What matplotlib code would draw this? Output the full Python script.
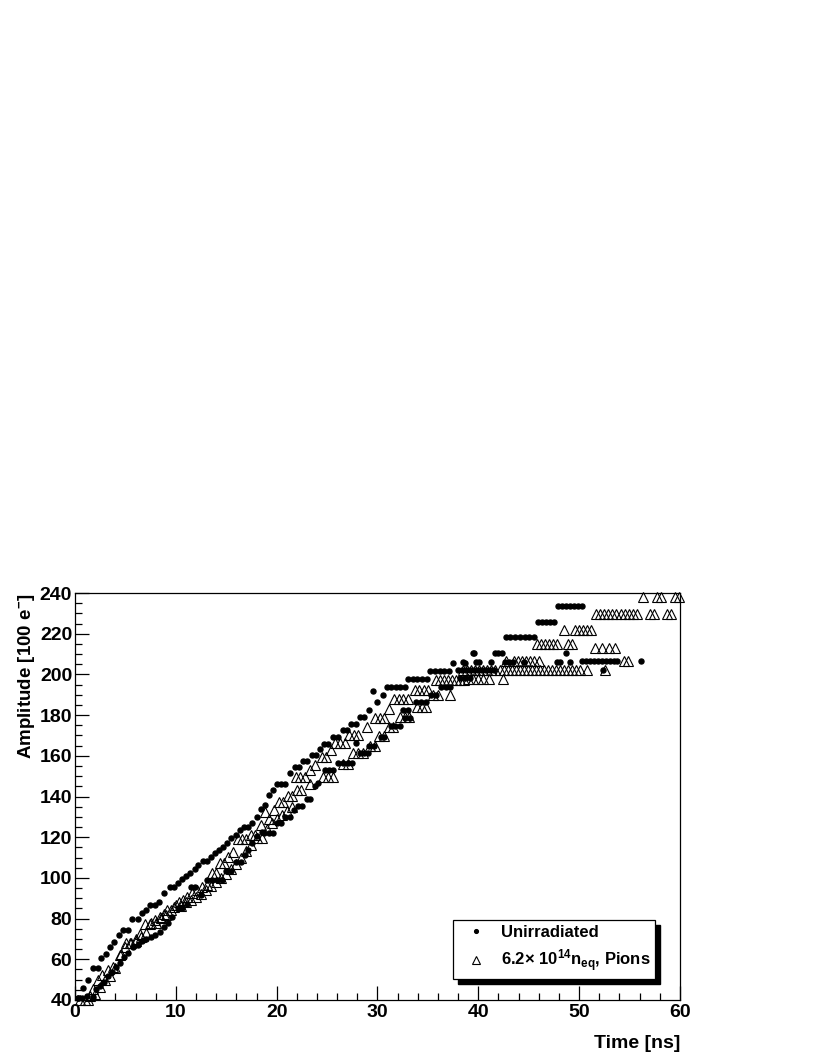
import matplotlib
matplotlib.use("Agg")
import matplotlib.pyplot as plt
from matplotlib.patches import Rectangle
from matplotlib.ticker import MultipleLocator

plt.rcParams['font.family'] = ['Liberation Sans', 'DejaVu Sans']
plt.rcParams['font.weight'] = 'bold'
plt.rcParams['mathtext.fontset'] = 'custom'
plt.rcParams['mathtext.rm'] = 'Liberation Sans:bold'
plt.rcParams['mathtext.it'] = 'Liberation Sans:bold'
plt.rcParams['mathtext.bf'] = 'Liberation Sans:bold'

# Unirradiated, steep (upper) trace
unirr_upper_t = [0.3, 0.8, 1.3, 1.75, 2.25, 2.6, 3.1, 3.5, 3.9, 4.4, 4.8, 5.3, 5.7, 6.2, 6.6, 7.0,
                 7.4, 7.9, 8.3, 8.8, 9.4, 9.8, 10.2, 10.6, 11.0, 11.4, 11.9, 12.2, 12.7, 13.1, 13.5,
                 13.9, 14.3, 14.7, 15.1, 15.5, 16.0, 16.4, 16.8, 17.2, 17.6, 18.0, 18.4, 18.8, 19.2,
                 19.6, 20.0, 20.4, 20.8, 21.3, 21.8, 22.2, 22.6, 23.0, 23.5, 23.9, 24.3, 24.7, 25.1,
                 25.6, 26.1, 26.6, 27.0, 27.4, 27.9, 28.3, 28.7, 29.2, 29.6, 30.0, 30.5, 30.9, 31.3,
                 31.8, 32.2, 32.7, 33.0, 33.5, 33.9, 34.4, 34.9, 35.2, 35.7, 36.2, 36.6, 37.1, 37.5,
                 38.7, 39.6, 41.7, 42.0, 42.3, 42.7, 43.1, 43.6, 44.1, 44.6, 45.0, 45.5, 45.9, 46.3,
                 46.7, 47.1, 47.5, 47.9, 48.3, 48.7, 49.1, 49.5, 49.9, 50.3]
unirr_upper_a = [41, 46, 50, 55.6, 55.6, 60.5, 62.6, 66, 68.7, 72, 74.4, 74.4, 80, 80, 82.6, 84.2,
                 86.7, 86.7, 88.3, 92.4, 95.7, 95.7, 97.3, 99.3, 100.9, 102.6, 104.2, 106.3, 108.3,
                 108.3, 110.4, 112.1, 113.7, 115.3, 117, 119.5, 121.1, 123.5, 125.2, 125.2, 126.8,
                 130.1, 134, 136, 140.7, 143.2, 146.1, 146.1, 146.1, 151.7, 154.3, 154.3, 157.2,
                 157.2, 160.2, 160.2, 163.2, 166, 166, 169.2, 169.2, 172.5, 172.5, 175.8, 175.8,
                 179.1, 179.1, 182.7, 191.8, 186.6, 189.9, 194, 194, 194, 194, 194, 197.7, 197.7,
                 197.7, 197.7, 197.7, 201.8, 201.8, 201.8, 201.8, 201.8, 205.8, 205.8, 210.3, 210.7,
                 210.7, 210.7, 218.2, 218.2, 218.2, 218.2, 218.2, 218.2, 218.2, 225.6, 225.6, 225.6,
                 225.6, 225.6, 233.8, 233.8, 233.8, 233.8, 233.8, 233.8, 233.8]

# Unirradiated, slower (lower) trace
unirr_lower_t = [0.3, 0.7, 1.2, 1.8, 2.1, 2.5, 2.9, 3.3, 3.7, 4.1, 4.5, 4.9, 5.3, 5.8, 6.2, 6.6,
                 7.0, 7.5, 7.9, 8.4, 8.8, 9.2, 9.6, 10.2, 10.6, 11.1, 11.5, 11.9, 12.5, 13.1, 13.6,
                 14.1, 14.6, 15.0, 15.5, 16.0, 16.5, 16.9, 17.2, 17.6, 18.0, 18.5, 18.7, 19.2, 19.6,
                 20.0, 20.4, 20.8, 21.3, 21.7, 22.1, 22.5, 23.0, 23.3, 23.8, 24.1, 24.8, 25.2, 25.6,
                 26.1, 26.6, 27.1, 27.5, 27.9, 28.3, 28.7, 29.1, 29.2, 29.7, 30.3, 30.6, 31.3, 31.7,
                 32.2, 32.5, 32.7, 33.0, 33.2, 33.8, 34.3, 34.8, 35.3, 35.8, 36.3, 36.8, 37.2]
unirr_lower_a = [40.8, 41, 42, 41.6, 45.6, 47, 49, 52, 54, 56, 58, 61, 63, 66, 67, 69,
                 70, 71, 72, 73.6, 76, 78, 81, 85, 85, 87, 95.7, 95.7, 91.5, 99, 99,
                 99, 99, 103.4, 103.4, 108, 108, 111.4, 113.8, 117, 120.4, 122.8, 121.9, 121.9, 121.9,
                 126.8, 126.8, 129.8, 129.8, 133.4, 135.3, 135.3, 138.6, 138.6, 145.1, 146.4, 152.9,
                 152.9, 152.9, 156.5, 156.5, 156.5, 156.5, 166.4, 161.2, 161.2, 161.2, 165, 165,
                 169.4, 169.4, 174.7, 174.7, 174.7, 182.6, 178.8, 182.6, 178.8, 186.3, 186.3, 186.3,
                 190, 190, 194, 194, 194]

# Unirradiated, plateau samples
unirr_flat_t = [38.0, 38.4, 38.8, 39.2, 39.6, 40.0, 40.4, 40.8, 41.2, 41.6, 38.2, 38.7, 39.2,
                38.5, 39.8, 40.1, 41.3, 42.6, 43.0, 43.4, 44.5, 47.8, 48.1, 49.1, 50.3, 50.7,
                51.1, 51.5, 51.9, 52.3, 52.7, 53.1, 53.5, 53.8, 56.1, 52.4, 48.7, 39.5]
unirr_flat_a = [202, 202, 202, 202, 202, 202, 202, 202, 202, 202, 198, 198, 198,
                206, 206, 206, 206, 206, 206, 206, 206, 206, 206, 206, 206.5, 206.5,
                206.5, 206.5, 206.5, 206.5, 206.5, 206.5, 206.5, 206.5, 206.5, 202, 210.3, 210.3]

# Pions 6.2e14, upper trace
pion_upper_t = [0.5, 1.3, 1.8, 2.3, 2.7, 3.3, 3.8, 4.6, 5.0, 5.6, 6.0, 6.4, 6.9, 7.4, 7.9, 8.4,
                8.8, 9.1, 9.8, 10.3, 10.7, 11.1, 11.6, 12.1, 12.6, 13.1, 13.6, 14.0, 14.4, 14.8,
                15.2, 15.7, 16.2, 16.6, 17.0, 17.5, 17.9, 18.4, 18.8, 19.2, 19.7, 20.2, 20.6, 21.1,
                21.5, 21.9, 22.3, 22.8, 23.3, 23.8, 24.5, 24.9, 25.4, 25.8, 26.3, 26.8, 27.2, 27.7,
                28.1, 29.0, 29.8, 30.2, 30.6, 31.1, 31.6, 32.1, 32.5, 33.0, 33.7, 34.1, 34.6, 35.0,
                35.8, 36.2, 36.6, 37.0, 37.4, 37.8, 38.2, 38.6, 39.0, 39.5, 40.0, 40.5, 41.1, 42.4]
pion_upper_a = [40, 40, 45.6, 49.6, 52.1, 54.5, 56.2, 62.7, 66, 68, 70.1, 72.6, 77.5, 77.5, 79.1,
                80.8, 82.4, 84.1, 85.7, 88.3, 89.1, 90.7, 92.4, 94, 95.7, 96.5, 102.2, 102.2, 107.1,
                107.1, 110.4, 112.9, 118.9, 118.9, 118.9, 121.1, 121.1, 126, 132.6, 128.8, 133.4,
                137.4, 137.4, 140.2, 140.2, 149.4, 149.4, 149.4, 153, 155.5, 159.6, 159.6, 162.9,
                166.4, 166.4, 166.4, 170.2, 170.2, 170.2, 174.3, 178.8, 178.8, 178.8, 182.9, 187.8,
                187.8, 187.8, 187.8, 192.3, 192.3, 192.3, 192.3, 197.2, 197.2, 197.2, 197.2, 197.2,
                197.2, 197.2, 197.2, 197.5, 197.5, 197.5, 197.5, 197.5, 197.5]

# Pions 6.2e14, lower trace
pion_lower_t = [1.0, 1.5, 2.0, 2.5, 3.0, 3.5, 4.0, 4.5, 5.1, 5.5, 6.0, 6.5, 7.0, 7.5, 8.0, 8.5,
                9.0, 9.5, 10.0, 10.5, 11.0, 11.5, 12.0, 12.5, 13.0, 13.5, 14.0, 14.5, 15.0, 15.5,
                16.0, 16.5, 17.0, 17.5, 18.0, 18.5, 19.0, 19.5, 20.0, 20.5, 21.0, 21.5, 22.0, 22.4,
                23.3, 24.6, 25.1, 25.6, 26.6, 27.1, 27.6, 28.1, 28.6, 29.3, 29.8, 30.1, 30.6, 31.1,
                31.5, 32.2, 32.7, 33.1, 33.9, 34.4, 34.8, 35.5, 36.0, 37.2]
pion_lower_a = [40, 42, 43, 46.4, 49.8, 52, 55.5, 62.1, 67.8, 67.8, 69, 71.1, 73, 77.7, 77.7, 80.1,
                81.8, 84.3, 86.8, 86, 88, 89, 90.5, 92, 94, 96, 98, 100, 102, 104.5, 107, 110, 113,
                116, 119.5, 119.5, 124, 127, 129, 131, 133, 135, 143.2, 143.2, 146, 149.7, 149.7,
                149.7, 156, 156, 161.2, 161.2, 161.2, 165, 165, 169.7, 169.7, 174.3, 174.3, 179.2,
                179.2, 179.2, 184.2, 184.2, 184.2, 189.9, 189.9, 189.9]

# Pions 6.2e14, plateau samples
pion_flat_t = [38.5, 38.9, 39.3, 39.7, 40.1, 40.5, 40.9, 41.3, 41.7, 42.1, 42.5, 42.9, 43.3, 43.7,
               44.1, 44.5, 44.9, 45.3, 45.7, 46.1, 46.5, 46.9, 47.3, 47.7, 48.1, 48.5, 48.9, 49.3,
               49.7, 50.1, 50.8, 52.6,
               42.7, 43.5, 43.9, 44.3, 44.7, 45.1, 45.5, 46.0, 54.4, 54.8,
               45.8, 46.2, 46.6, 47.0, 47.4, 47.8, 48.9, 49.3,
               51.6, 52.3, 53.0, 53.6,
               48.5, 49.6, 50.0, 50.4, 50.8, 51.2,
               51.7, 52.1, 52.5, 52.9, 53.3, 53.7, 54.1, 54.5, 54.9, 55.3, 55.7, 57.0, 57.4, 58.7, 59.1,
               56.3, 57.7, 58.1, 59.5, 59.9]
pion_flat_a = [202] * 32 + [206.6] * 10 + [214.8] * 8 + [212.8] * 4 + [221.8] * 6 + \
              [229.7] * 15 + [237.9] * 5

unirr_t = unirr_upper_t + unirr_lower_t + unirr_flat_t
unirr_a = unirr_upper_a + unirr_lower_a + unirr_flat_a
pion_t = pion_upper_t + pion_lower_t + pion_flat_t
pion_a = pion_upper_a + pion_lower_a + pion_flat_a

fig = plt.figure(figsize=(8.14, 10.53), dpi=100)
ax = fig.add_axes([75 / 814, 1 - 1000 / 1053, 605 / 814, 407 / 1053])

ax.plot(unirr_t, unirr_a, 'o', color='black', markersize=3.6, linestyle='none',
        label='Unirradiated', clip_on=False)
ax.plot(pion_t, pion_a, '^', mfc='none', mec='black', mew=0.8, markersize=7,
        linestyle='none', label=r'6.2$\mathregular{\times}$ 10$^{14}$n$_{\rm eq}$, Pions',
        clip_on=False)

ax.set_xlim(0, 60)
ax.set_ylim(40, 240)
ax.xaxis.set_major_locator(MultipleLocator(10))
ax.xaxis.set_minor_locator(MultipleLocator(2))
ax.yaxis.set_major_locator(MultipleLocator(20))
ax.yaxis.set_minor_locator(MultipleLocator(5))
ax.tick_params(which='both', direction='in', top=False, right=False, labelsize=14,
               width=0.9, color='black')
ax.tick_params(which='major', length=10)
ax.tick_params(which='minor', length=5)
ax.tick_params(axis='x', pad=3)
ax.tick_params(axis='y', pad=2)
for lab in ax.get_xticklabels() + ax.get_yticklabels():
    lab.set_fontweight('bold')
for s in ax.spines.values():
    s.set_linewidth(0.9)

ax.set_xlabel('Time [ns]', fontsize=14, fontweight='bold', loc='right', labelpad=10)
ax.set_ylabel(r'Amplitude [100 e$^{-}$]', fontsize=13.5, fontweight='bold', loc='top', labelpad=2)

leg = ax.legend(loc='upper left', bbox_to_anchor=(0.6248, 0.1966), fontsize=12,
                frameon=True, fancybox=False, edgecolor='black', framealpha=1,
                handletextpad=0.45, borderpad=0.3, labelspacing=0.45, handlelength=2.1,
                markerscale=0.75, borderaxespad=0)
leg.get_frame().set_linewidth(0.9)
leg.set_zorder(5)

fig.canvas.draw()
bb = leg.get_frame().get_window_extent().transformed(fig.transFigure.inverted())
shadow = Rectangle((bb.x0 + 5 / 814, bb.y0 - 5 / 1053), bb.width, bb.height,
                   transform=fig.transFigure, facecolor='black', edgecolor='black',
                   zorder=4, clip_on=False)
ax.add_artist(shadow)

fig.savefig('out.png', dpi=100)
